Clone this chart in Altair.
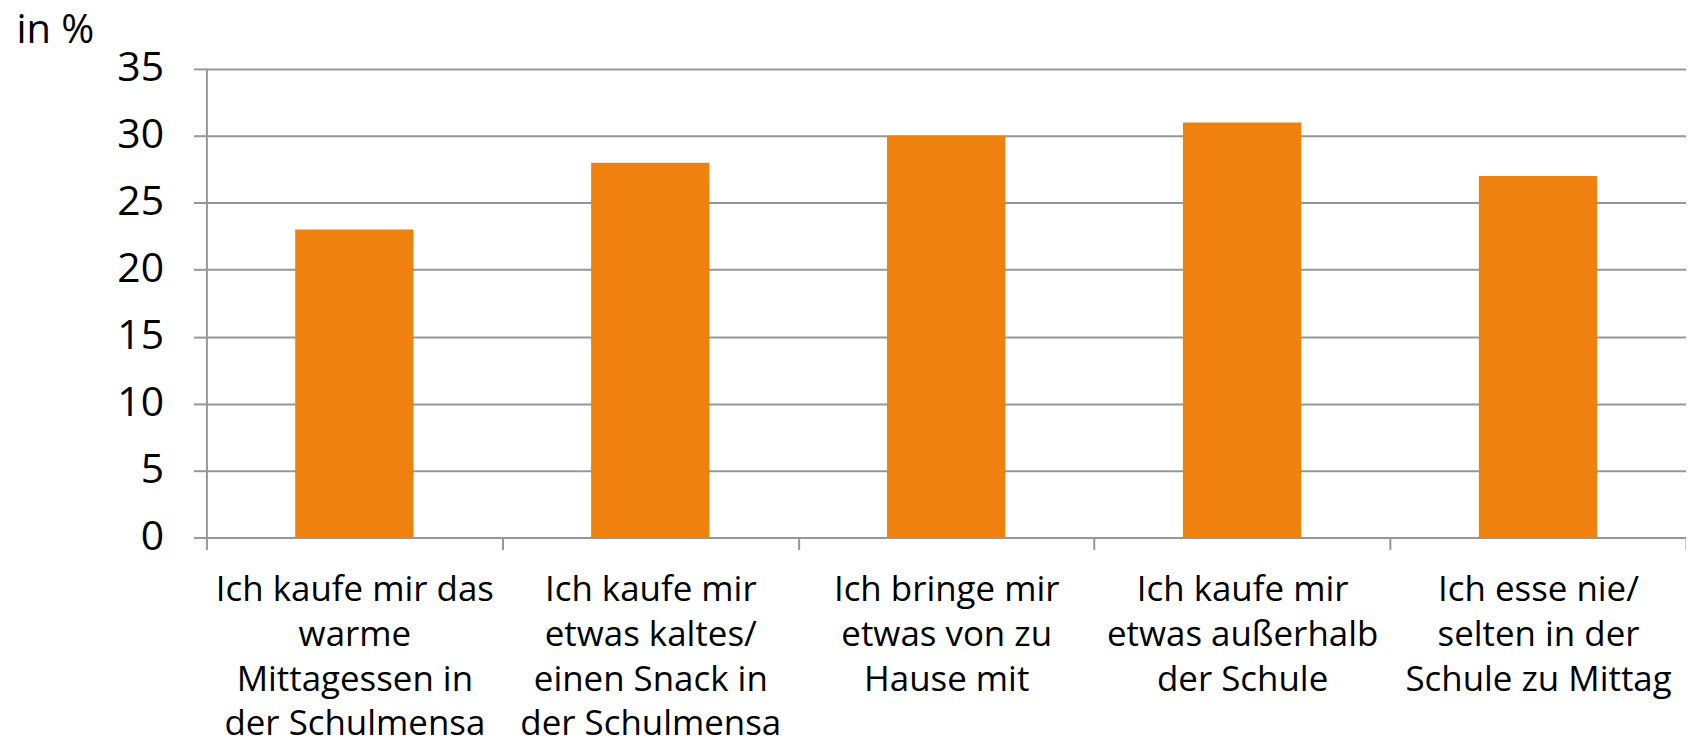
import altair as alt
import pandas as pd

categories = [
    "Ich kaufe mir das|warme|Mittagessen in|der Schulmensa",
    "Ich kaufe mir|etwas kaltes/|einen Snack in|der Schulmensa",
    "Ich bringe mir|etwas von zu|Hause mit",
    "Ich kaufe mir|etwas außerhalb|der Schule",
    "Ich esse nie/|selten in der|Schule zu Mittag",
]
values = [23, 28, 30, 31, 27]
y_ticks = [0, 5, 10, 15, 20, 25, 30, 35]

df = pd.DataFrame({"cat": categories, "val": values})

FONT = "Open Sans"
GRAY = "#979797"

chart = (
    alt.Chart(df)
    .mark_bar(color="#EF810E", width=alt.RelativeBandSize(0.4))
    .encode(
        x=alt.X(
            "cat:N",
            sort=categories,
            scale=alt.Scale(paddingInner=0, paddingOuter=0),
            axis=alt.Axis(
                title=None,
                labelAngle=0,
                labelExpr="split(datum.label, '|')",
                labelFont=FONT,
                labelFontSize=35,
                labelColor="#000000",
                labelLineHeight=45,
                labelPadding=51,
                labelBaseline="alphabetic",
                tickBand="extent",
                tickSize=12,
                tickWidth=2,
                tickColor=GRAY,
                domainColor=GRAY,
                domainWidth=2,
                grid=False,
                labelLimit=400,
            ),
        ),
        y=alt.Y(
            "val:Q",
            scale=alt.Scale(domain=[0, 35], nice=False),
            axis=alt.Axis(
                title="in %",
                titleAngle=0,
                titleAlign="left",
                titleBaseline="alphabetic",
                titleX=-191,
                titleY=-26,
                titleFont=FONT,
                titleFontSize=40,
                titleFontWeight="normal",
                titleColor="#000000",
                values=y_ticks,
                labelFont=FONT,
                labelFontSize=41,
                labelColor="#000000",
                labelPadding=30,
                tickSize=13,
                tickWidth=2,
                tickColor=GRAY,
                domainColor=GRAY,
                domainWidth=2,
                grid=True,
                gridColor=GRAY,
                gridWidth=2,
            ),
        ),
    )
    .properties(
        width=1484,
        height=470,
        autosize=alt.AutoSizeParams(type="none"),
        padding={"left": 199, "top": 60, "right": 0, "bottom": 203},
    )
    .configure_view(stroke=None)
)

chart.save("out.html", embed_options={"renderer": "svg", "actions": False})
